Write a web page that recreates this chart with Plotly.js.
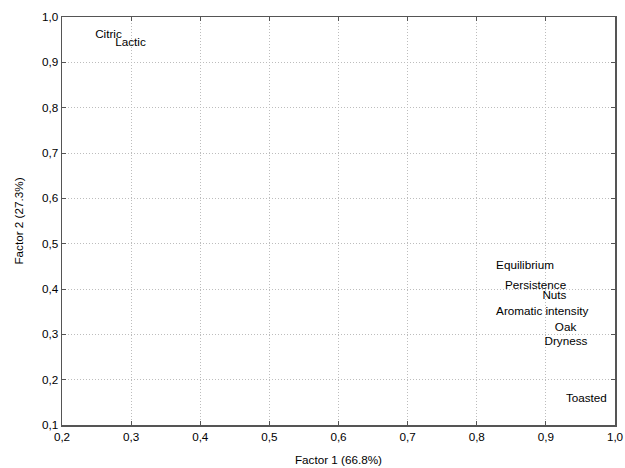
<!DOCTYPE html>
<html><head><meta charset="utf-8">
<script src="https://cdn.plot.ly/plotly-3.0.1.min.js"></script>
<style>html,body{margin:0;padding:0;background:#fff}#chart{width:625px;height:468px}</style>
</head><body><div id="chart"></div>
<script>
const labels = ["Citric","Lactic","Equilibrium","Persistence","Nuts","Aromatic intensity","Oak","Dryness","Toasted"];
const factor1 = [0.248,0.277,0.828,0.841,0.895,0.828,0.913,0.898,0.929];
const factor2 = [0.960,0.943,0.450,0.406,0.384,0.349,0.313,0.283,0.157];
const xTicks = [0.2,0.3,0.4,0.5,0.6,0.7,0.8,0.9,1.0];
const yTicks = [0.1,0.2,0.3,0.4,0.5,0.6,0.7,0.8,0.9,1.0];

const font = {family:"Liberation Sans, Arial, sans-serif", size:11.7, color:"#000"};
const trace = {
  x: factor1, y: factor2, text: labels, mode: "text", type: "scatter",
  textposition: "middle right", textfont: font, hoverinfo: "text", cliponaxis:false
};
const axisCommon = {
  showgrid:true, gridcolor:"#bdbdbd", griddash:"1px,2px", gridwidth:1,
  zeroline:false, showline:true, mirror:"ticks", linecolor:"#555", linewidth:1.5,
  ticks:"inside", ticklen:4, tickcolor:"#555", tickformat:".1f", tickfont:font
};
const layout = {
  width:625, height:468, separators:", ",
  margin:{l:62, r:10, t:17, b:43},
  paper_bgcolor:"#fff", plot_bgcolor:"#fff", showlegend:false, font:font,
  xaxis: Object.assign({}, axisCommon, {range:[0.2,1.0], tickvals:xTicks,
    title:{text:"Factor 1 (66.8%)", font:font, standoff:14}}),
  yaxis: Object.assign({}, axisCommon, {range:[0.1,1.0], tickvals:yTicks,
    title:{text:"Factor 2 (27.3%)", font:font, standoff:16}})
};
Plotly.newPlot("chart", [trace], layout, {staticPlot:true});
</script></body></html>
